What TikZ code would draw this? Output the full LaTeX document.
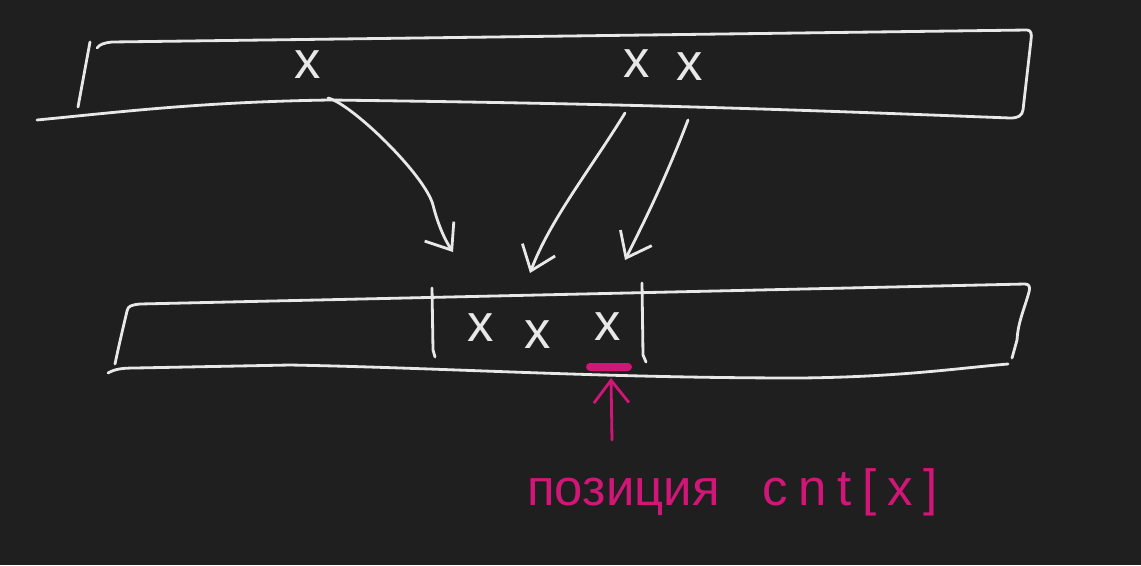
\documentclass[tikz,border=0pt]{standalone}
\usepackage{fontspec}
\setmainfont{Liberation Sans}
\usepackage{xcolor}
\usepackage{tikz}
\usetikzlibrary{arrows.meta}
\definecolor{board}{RGB}{31,31,31}
\definecolor{chalk}{RGB}{232,232,232}
\definecolor{marker}{RGB}{210,22,120}
\tikzset{
    pen/.style={draw=chalk, line width=1.6pt, line cap=round, line join=round},
    cell/.style={text=chalk, font=\fontsize{30}{30}\selectfont, inner sep=0pt},
    arrow/.style={pen, -{Straight Barb[length=4.5mm, width=7mm]}},
    hint/.style={draw=marker, line width=1.6pt, line cap=round, -{Straight Barb[length=4.5mm, width=7mm]}},
    note/.style={text=marker, font=\fontsize{29}{30}\selectfont, inner sep=0pt}
}

\begin{document}
\begin{tikzpicture}[x=0.02cm, y=-0.02cm]
    \fill[board] (0,0) rectangle (1141,565);

    % source array
    \draw[pen] (97,48) .. controls (100,44) and (104,43) .. (112,42) -- (1027,30)
        .. controls (1031,30) and (1032,34) .. (1031,40) -- (1023,110)
        .. controls (1022,116) and (1018,118) .. (1010,118)
        .. controls (800,110) and (650,104) .. (330,100)
        .. controls (200,102) and (120,112) .. (37,120);
    \draw[pen] (90,42) -- (78,107);
    \node (xa) [cell] at (308,65) {x};
    \node (xb) [cell] at (637,64) {x};
    \node (xc) [cell] at (690,67) {x};

    % target array
    \draw[pen] (115,364) .. controls (120,340) and (125,320) .. (127,311)
        .. controls (128,306) and (131,305) .. (140,304) -- (1025,284)
        .. controls (1030,284) and (1030,288) .. (1029,292)
        .. controls (1024,310) and (1018,322) .. (1017,340) -- (1012,358);
    \draw[pen] (108,373) .. controls (115,369) and (122,368) .. (135,368) -- (290,365)
        .. controls (450,368) and (600,378) .. (800,378)
        .. controls (900,377) and (960,368) .. (1008,364);
    \draw[pen] (432,288) -- (433,350) -- (435,357);
    \draw[pen] (642,283) -- (643,355) -- (646,362);
    \node (ca) [cell] at (481,328) {x};
    \node (cb) [cell] at (538,335) {x};
    \node (cc) [cell] at (608,327) {x};

    % moves
    \coordinate (from1) at (328,98);
    \coordinate (from2) at (625,113);
    \coordinate (from3) at (688,120);
    \coordinate (to1) at (453,252);
    \coordinate (to2) at (530,273);
    \coordinate (to3) at (625,260);
    \draw[arrow] (from1) .. controls (352,104) and (425,175) .. (433,205)
        .. controls (438,225) and (445,240) .. (to1);
    \draw[arrow] (from2) .. controls (590,170) and (550,220) .. (to2);
    \draw[arrow] (from3) .. controls (665,180) and (645,220) .. (to3);

    % position marker
    \draw[marker, line width=4.5pt, line cap=round] (590,367) -- (628,367);
    \coordinate (hintfoot) at (612,440);
    \coordinate (hinttip) at (611,378);
    \draw[hint] (hintfoot) -- (hinttip);
    \node (label) [note, anchor=base west] at (527,505)
        {позиция\hspace{0.85cm}{\addfontfeatures{LetterSpace=21}cnt[x]}};
\end{tikzpicture}
\end{document}
